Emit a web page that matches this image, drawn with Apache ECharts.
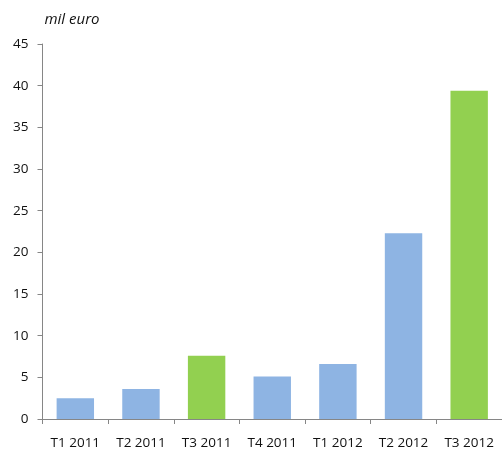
<!DOCTYPE html>
<html>
<head>
<meta charset="utf-8">
<script src="https://cdn.jsdelivr.net/npm/echarts@6/dist/echarts.min.js"></script>
<style>
  html, body { margin: 0; padding: 0; background: #fff; }
  #chart { width: 502px; height: 451px; }
</style>
</head>
<body>
<div id="chart"></div>
<script>
// trimestri e valori (mil euro)
var categories = ['T1 2011', 'T2 2011', 'T3 2011', 'T4 2011', 'T1 2012', 'T2 2012', 'T3 2012'];
var values = [2.5, 3.6, 7.6, 5.1, 6.6, 22.3, 39.4];
var highlighted = ['T3 2011', 'T3 2012']; // barre verdi
var yTicks = [0, 5, 10, 15, 20, 25, 30, 35, 40, 45];

var blue = '#8EB4E3', green = '#92D050';
var font = 'Open Sans';

var chart = echarts.init(document.getElementById('chart'));
var option = {
  animation: false,
  grid: { left: 42.5, right: -4.5, top: 44, bottom: 32, containLabel: false },
  xAxis: {
    type: 'category',
    data: categories,
    axisLine: { lineStyle: { color: '#868686' } },
    axisTick: { show: true, length: 5, lineStyle: { color: '#868686' } },
    axisLabel: { color: '#111', fontFamily: font, fontSize: 13.5, margin: 17, interval: 0 }
  },
  yAxis: {
    type: 'value',
    min: yTicks[0],
    max: yTicks[yTicks.length - 1],
    interval: 5,
    name: 'mil euro',
    nameLocation: 'end',
    nameGap: 17,
    nameTextStyle: { color: '#111', fontFamily: font, fontSize: 15, fontStyle: 'italic', align: 'left', padding: [0, 0, 0, 2] },
    axisLine: { show: true, lineStyle: { color: '#868686' } },
    axisTick: { show: true, length: 5, lineStyle: { color: '#868686' } },
    axisLabel: { color: '#111', fontFamily: font, fontSize: 13.5, margin: 14 },
    splitLine: { show: false }
  },
  series: [{
    type: 'bar',
    barWidth: '57%',
    data: values.map(function (v, i) {
      return {
        value: v,
        itemStyle: { color: highlighted.indexOf(categories[i]) >= 0 ? green : blue }
      };
    })
  }]
};
chart.setOption(option);
</script>
</body>
</html>
